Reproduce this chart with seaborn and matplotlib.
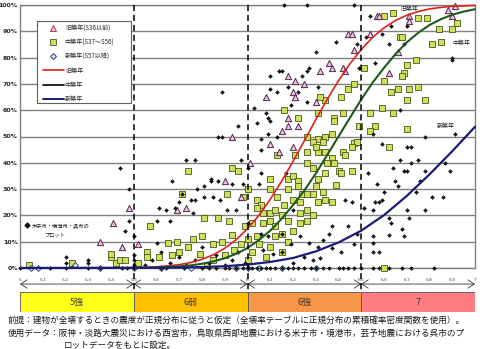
import numpy as np
import pandas as pd
import matplotlib
matplotlib.use("Agg")
import matplotlib.pyplot as plt
import seaborn as sns
from matplotlib.lines import Line2D
from matplotlib.patches import Rectangle

# ---------------- data ----------------
# 旧築年 (S36以前) plots : (intensity, damage %)
old_x = [6.91, 6.88, 6.90, 6.57, 6.58, 6.71, 6.71, 6.44, 6.46, 6.54, 6.47, 6.66, 6.36, 6.37,
         6.42, 6.43, 6.62, 6.18, 6.21, 6.25, 6.32, 6.08, 6.20, 6.21, 6.30, 6.18, 6.18, 6.22,
         5.93, 6.15, 6.10, 6.20, 6.14, 6.01, 5.90, 5.97, 5.73, 5.69, 5.48, 5.41, 5.35, 5.45, 5.52]
old_y = [99.6, 98, 96, 96, 96, 96, 94, 89, 89, 89, 83, 82, 78, 76,
         76, 75, 74, 73, 71, 70, 75, 65, 67, 65, 63, 57, 54, 54,
         50, 52, 47, 46, 44, 40, 33, 27, 23, 22, 23, 17, 10, 8, 9]

# 中築年 (S37～S56) plots
mid_x = [6.60, 6.64, 6.75, 6.79, 6.92, 6.90, 6.84, 6.67, 6.68, 6.81, 6.85, 6.51, 6.60, 6.70,
         6.69, 6.74, 6.68, 6.47, 6.44, 6.41, 6.34, 6.63, 6.66, 6.71, 6.70, 6.75, 6.78, 6.54,
         6.64, 6.59, 6.42, 6.38, 6.32, 6.16, 6.22, 6.31,
         6.49, 6.56, 6.54, 6.62, 6.70, 6.26, 6.31, 6.29, 6.13, 6.21, 6.26, 6.31, 6.30, 5.93,
         5.96, 5.74, 6.10, 6.18, 6.20, 6.22, 6.26, 6.29, 6.31, 6.00, 6.10, 6.18, 6.22, 6.24,
         6.26, 6.30, 5.71, 5.91, 5.98, 6.04, 6.06, 6.13, 6.16, 6.20, 6.23, 6.29, 6.31, 6.04,
         6.07, 6.10, 6.12, 6.15, 6.23, 6.26, 6.29,
         6.38, 6.34, 6.37, 6.33, 6.47, 6.48, 6.46, 6.42, 6.43, 6.34, 6.37, 6.38, 6.35, 6.34,
         6.40, 6.41, 6.46, 6.39, 6.37, 6.34, 6.33,
         5.81, 5.87, 5.92, 6.02, 5.99, 6.07, 6.10, 6.12, 6.18, 6.23, 6.26, 5.57, 5.69, 5.56,
         5.61, 5.65, 5.67, 5.70, 5.74, 5.76, 5.79, 5.80, 5.85, 5.89, 5.93, 5.94, 6.15, 6.04,
         6.00, 5.04, 5.23, 5.40, 5.42, 5.44, 5.46, 5.52, 5.56, 5.40, 6.00, 6.02, 6.05, 6.08,
         6.10, 6.12, 6.15, 6.18, 6.20, 5.97, 5.90, 5.85, 5.82, 6.60]
mid_y = [96, 97, 95, 95, 93, 91, 91, 88, 88, 85, 86, 76, 71, 77,
         74, 79, 73, 70, 68, 65, 64, 67, 68, 68, 64, 69, 64, 59,
         59, 61, 59, 57, 65, 60, 57, 59,
         54, 54, 52, 46, 53, 50, 49, 48, 43, 43, 44, 44, 46, 38,
         37, 37, 34, 34, 35, 33, 40, 38, 34, 30, 30, 30, 31, 28,
         28, 31, 28, 28, 27, 26, 24, 27, 24, 26, 25, 28, 25, 23,
         21, 21, 22, 20, 21, 22, 20,
         56, 50, 51, 48, 47.5, 48, 46, 44, 43, 44, 42, 40, 40, 36,
         37, 36, 37, 31.5, 25, 26, 29,
         19, 19, 18, 17, 16, 17, 18, 16, 18, 17, 18, 16, 10, 6,
         4, 9.5, 5, 6, 8, 11, 5.5, 12, 9, 10, 12.5, 7, 13, 12,
         11, 1, 2, 4, 2, 3, 3, 2, 4, 5.5, 3, 6, 9, 4,
         8, 12, 6, 10, 14, 9, 5, 3, 1, 0]

# 新築年 (S57以降) plots
new_x = [5.05, 5.08, 5.24, 5.35, 5.50, 5.62, 5.75, 5.95, 6.00, 6.05, 6.15, 6.30]
new_y = [0, 0, 1, 0, 0, 0, 0, 0, 0, 0, 0, 0]

# 米子市・境港市・呉市 plots
oth_x = [6.16, 6.26, 6.47, 6.30, 6.10, 6.14, 6.15, 6.24, 6.27, 6.26, 5.89, 6.10, 6.13, 6.18,
         6.22, 6.31, 6.26, 6.03, 6.19, 6.08, 6.09,
         6.54, 6.70, 6.63, 6.52, 6.59, 6.39, 6.62, 6.48, 6.69, 6.90, 6.90, 6.49, 6.56, 6.67,
         6.59, 6.70, 6.72, 6.78, 6.91, 6.55, 6.67, 6.72, 6.75, 6.70, 6.69, 6.64, 6.53, 6.57,
         6.65, 6.78, 6.87, 6.89, 6.76, 6.66, 6.74, 6.60, 6.56, 6.59, 6.58, 6.81, 6.86, 6.43,
         6.46, 6.51, 6.55, 6.70, 6.78, 6.71, 6.62, 6.63, 6.37, 6.44, 6.68,
         6.62, 6.69, 6.55, 6.55, 6.48, 6.47, 6.55, 6.58, 6.41, 6.37, 6.33, 6.31, 6.36, 6.23,
         6.19, 6.27, 6.15, 6.11, 6.07, 6.32, 6.29, 6.25, 6.20, 6.06, 6.09, 6.15,
         5.96, 6.04, 6.10, 5.87, 5.89, 6.09, 6.13, 6.06, 6.06, 5.73, 5.77, 5.97, 6.00, 6.06,
         6.17, 5.67, 5.84, 5.84, 5.87, 5.93, 5.98, 6.05, 5.81, 5.78, 5.71, 5.75, 5.77, 5.81,
         5.85, 5.88, 5.70, 5.68, 5.64, 5.76, 5.91, 5.95, 6.20, 5.66, 6.00,
         5.44, 5.48, 5.48, 5.60, 5.61, 5.46, 5.50, 5.60,
         5.55, 5.58, 5.62, 5.66, 5.70, 5.73, 5.77, 5.80, 5.83, 5.86, 5.90, 5.93, 5.96, 5.99,
         5.20, 5.20, 5.30, 5.30, 5.50, 5.50, 5.50,
         5.00, 5.13, 5.20, 5.30, 5.35, 5.45, 5.47, 5.50, 5.62, 5.64, 5.72, 5.80, 5.83, 5.86,
         5.90, 5.92, 5.95, 5.98, 6.00, 6.02, 6.04, 6.06, 6.08, 6.10, 6.12, 6.15, 6.18, 6.20,
         6.22, 6.25, 6.28, 6.30, 6.33, 6.36, 6.40, 6.42, 6.44, 6.47, 6.50, 6.55, 6.58, 6.62,
         6.68, 6.72, 6.82]
oth_y = [100, 100, 100, 82, 73, 75, 75, 73, 76, 75, 67, 68, 67, 69,
         67, 69, 63, 61, 62, 59, 57,
         96, 92, 92, 88, 89, 86, 85, 85, 85, 80, 79, 76, 78, 60,
         47, 46, 46, 50, 51, 51, 41, 40, 41, 37, 37, 38, 36, 32,
         33, 37, 40, 37, 33, 31, 29, 29, 25, 26, 25, 27, 27, 26,
         25, 23, 22, 22, 22, 19, 19, 17, 16, 16, 15,
         12.5, 12, 12, 9.5, 13, 9, 6, 6, 6, 7.6, 10.6, 8, 13, 12,
         9, 9.5, 6, 5.5, 7, 3.8, 3, 4, 2, 13, 12, 13,
         54, 55, 56, 50, 50, 51, 50, 49, 45, 41, 41, 41, 38, 36,
         36, 33, 34, 33, 33, 32, 32, 32, 31, 30, 28, 26, 26, 27,
         27, 26, 25, 23, 22, 21, 22, 22, 22, 18, 17,
         38, 30, 18, 18, 23, 14, 12, 9.5,
         1, 3, 6, 2, 4, 1, 3, 8, 2, 5, 1, 3, 6, 2,
         2, 4, 2, 3, 1, 3, 5,
         0, 0, 0, 0, 0, 0, 0, 0, 0, 0, 0, 0, 0, 0,
         0, 0, 0, 0, 0, 0, 0, 0, 0, 0, 0, 0, 0, 0,
         0, 0, 0, 0, 0, 0, 0, 0, 0, 0, 0, 0, 0, 0,
         0, 0, 0]

# fitted damage curves
curve_x = [5.0, 5.5, 5.6, 5.7, 5.75, 5.8, 5.85, 5.9, 5.95, 6.0, 6.05, 6.1, 6.15, 6.2, 6.25,
           6.3, 6.35, 6.4, 6.45, 6.5, 6.55, 6.6, 6.65, 6.7, 6.75, 6.8, 6.85, 6.9, 6.95, 7.0]
red_y = [0, 0.1, 0.4, 1.25, 2.1, 3.3, 5.05, 7.5, 10.75, 14.9, 20.0, 26.1, 33.0, 40.5, 48.4,
         56.4, 64.1, 71.2, 77.6, 83.1, 87.7, 91.3, 94.1, 96.1, 97.5, 98.5, 99.1, 99.5, 99.7, 99.85]
green_y = [0, 0.07, 0.2, 0.62, 1.0, 1.6, 2.5, 3.7, 5.4, 7.6, 10.6, 14.2, 18.7, 23.9, 29.5,
           35.9, 42.9, 50.0, 57.1, 64.1, 70.5, 76.1, 81.3, 85.8, 89.4, 92.4, 94.6, 96.3, 97.5, 98.4]
blue_x = [5.0, 5.5, 5.6, 5.7, 5.8, 5.9, 6.0, 6.1, 6.2, 6.3, 6.4, 6.5, 6.6, 6.7, 6.8, 6.9, 7.0]
blue_y = [0, 0.03, 0.08, 0.17, 0.35, 0.68, 1.3, 2.3, 3.8, 6.3, 9.7, 14.2, 20.1, 27.4, 35.6, 44.4, 53.7]

y_ticks = [0, 10, 20, 30, 40, 50, 60, 70, 80, 90, 100]
y_labels = ["0%", "10%", "20%", "30%", "40%", "50%", "60%", "70%", "80%", "90%", "100%"]
x_ticks = [5.0, 5.1, 5.2, 5.3, 5.4, 5.5, 5.6, 5.7, 5.8, 5.9, 6.0, 6.1, 6.2, 6.3, 6.4, 6.5,
           6.6, 6.7, 6.8, 6.9, 7.0]
x_labels = ["5", "5.1", "5.2", "5.3", "5.4", "5.5", "5.6", "5.7", "5.8", "5.9", "6", "6.1",
            "6.2", "6.3", "6.4", "6.5", "6.6", "6.7", "6.8", "6.9", "7"]
bands = ["5強", "6弱", "6強", "7"]
band_start = [5.0, 5.5, 6.0, 6.5]
band_colors = ["#FFFF1A", "#FFC000", "#F79646", "#FF7C80"]
legend_labels = ["旧築年(S36以前)", "中築年(S37～S56)", "新築年(S57以降)", "旧築年", "中築年", "新築年"]
note_lines = [
    "前提：建物が全壊するときの震度が正規分布に従うと仮定（全壊率テーブルに正規分布の累積確率密度関数を使用）。",
    "使用データ：阪神・淡路大震災における西宮市，鳥取県西部地震における米子市・境港市，芸予地震における呉市のプ",
    "ロットデータをもとに設定。",
]

# ---------------- style ----------------
sns.set_style("white")
plt.rcParams["font.family"] = ["Noto Sans CJK JP", "DejaVu Sans"]

W, H = 480, 349
def fx(px):
    return px / W
def fy(py):
    return 1 - py / H

fig = plt.figure(figsize=(4.8, 3.49), dpi=100)
ax = fig.add_axes([fx(20), fy(268), 455 / W, 263 / H])

C_TRI_F, C_TRI_E = "#E6C6DE", "#5A2450"
C_SQ_F, C_SQ_E = "#CDE05A", "#4A5518"
C_DI_F, C_DI_E = "#DCE8F6", "#1F3A7A"
C_RED, C_GRN, C_BLU = "#E0201B", "#1E5A1E", "#1C1C78"

df_oth = pd.DataFrame({"x": oth_x, "y": oth_y})
df_old = pd.DataFrame({"x": old_x, "y": old_y})
df_mid = pd.DataFrame({"x": mid_x, "y": mid_y})
df_new = pd.DataFrame({"x": new_x, "y": new_y})

sns.scatterplot(data=df_mid, x="x", y="y", ax=ax, marker="s", s=16, color=C_SQ_F,
                edgecolor=C_SQ_E, linewidth=0.6, clip_on=False, zorder=3, legend=False)
sns.scatterplot(data=df_old, x="x", y="y", ax=ax, marker="^", s=20, color=C_TRI_F,
                edgecolor=C_TRI_E, linewidth=0.7, clip_on=False, zorder=3, legend=False)
sns.scatterplot(data=df_new, x="x", y="y", ax=ax, marker="D", s=9, color=C_DI_F,
                edgecolor=C_DI_E, linewidth=0.6, clip_on=False, zorder=3, legend=False)
sns.scatterplot(data=df_oth, x="x", y="y", ax=ax, marker="D", s=4, color="#111111",
                edgecolor="#111111", linewidth=0.3, clip_on=False, zorder=3.5, legend=False)

sns.lineplot(x=curve_x, y=red_y, ax=ax, color=C_RED, lw=1.2, zorder=4, clip_on=False)
sns.lineplot(x=curve_x, y=green_y, ax=ax, color=C_GRN, lw=1.5, zorder=4, clip_on=False)
sns.lineplot(x=blue_x, y=blue_y, ax=ax, color=C_BLU, lw=1.6, zorder=4.2, clip_on=False)

ax.set_xlim(5.0, 7.0)
ax.set_ylim(0, 100)
ax.set_xticks([])
ax.set_yticks(y_ticks)
ax.set_yticklabels(y_labels, fontsize=4.5, fontweight="bold", family=["DejaVu Sans"])
ax.tick_params(axis="y", length=0, pad=1.5)
ax.set_xlabel("")
ax.set_ylabel("")
ax.grid(axis="y", color="#808080", lw=1.0)
ax.set_axisbelow(True)
for sp in ax.spines.values():
    sp.set_color("#808080")
    sp.set_linewidth(1.0)

# dashed boundaries, continuing down through the intensity band
for xv in band_start[1:]:
    ax.plot([xv, xv], [100, -16.8], color="black", lw=1.1, ls=(0, (4, 2.5)),
            clip_on=False, zorder=6)

# curve labels
ax.text(6.71, 98.2, "旧築年", fontsize=4.3, color="#222222", ha="center", va="center", zorder=7)
ax.text(6.94, 85.5, "中築年", fontsize=4.3, color="#222222", ha="center", va="center", zorder=7)
ax.text(6.87, 54.0, "新築年", fontsize=4.3, color="#222222", ha="center", va="center", zorder=7)

# plot note for black markers
ax.scatter([5.03], [16.3], marker="D", s=6, color="#111111", clip_on=False, zorder=7)
ax.text(5.05, 16.3, "米子市・境港市・呉市の", fontsize=3.8, color="#222222", va="center", ha="left")
ax.text(5.155, 12.4, "プロット", fontsize=3.8, color="#222222", va="center", ha="center")

# legend with a manual frame
lx0, lx1 = (37 - 20) / 455, (131 - 20) / 455
ly0, ly1 = (268 - 103) / 263, (268 - 21) / 263
ax.add_patch(Rectangle((lx0, ly0), lx1 - lx0, ly1 - ly0, transform=ax.transAxes,
                       facecolor="white", edgecolor="#606060", lw=0.8, zorder=4.9))
handles = [
    Line2D([], [], ls="none", marker="^", ms=4.2, mfc=C_TRI_F, mec="#C0306A", mew=0.7),
    Line2D([], [], ls="none", marker="s", ms=3.8, mfc=C_SQ_F, mec=C_SQ_E, mew=0.6),
    Line2D([], [], ls="none", marker="D", ms=3.0, mfc=C_DI_F, mec=C_DI_E, mew=0.7),
    Line2D([], [], color=C_RED, lw=1.2),
    Line2D([], [], color="#151515", lw=1.3),
    Line2D([], [], color=C_BLU, lw=1.4),
]
leg = ax.legend(handles, legend_labels, loc="upper left",
                bbox_to_anchor=(lx0 + 0.004, ly1 + 0.004), frameon=False, fontsize=4.4,
                labelspacing=1.0, handlelength=3.4, handletextpad=0.15, borderpad=0.2)
leg.set_zorder(5)

# intensity scale row with arrows
y_arr = -6.1
for xs in band_start:
    ax.annotate("", xy=(xs + 0.5, y_arr), xytext=(xs, y_arr), xycoords="data",
                arrowprops=dict(arrowstyle="<->,head_length=0.45,head_width=0.3",
                                lw=0.6, color="#333333", shrinkA=0, shrinkB=0),
                annotation_clip=False)
for xv, lab in zip(x_ticks, x_labels):
    ax.text(xv, -4.6, lab, fontsize=3.2, color="#444444", ha="center", va="center",
            family=["DejaVu Sans"], clip_on=False)

# coloured intensity band
axb = fig.add_axes([fx(20), fy(312), 455 / W, 20 / H])
axb.set_xlim(5.0, 7.0)
axb.set_ylim(0, 1)
axb.axis("off")
for xs, col, lab in zip(band_start, band_colors, bands):
    axb.add_patch(Rectangle((xs, 0), 0.5, 1, facecolor=col, edgecolor="#555555", lw=0.6))
    axb.text(xs + 0.25, 0.48, lab, fontsize=6.5, color="#3a3a3a", ha="center", va="center")

# notes
fig.text(fx(8), fy(320), note_lines[0], fontsize=6.2, color="#1a1a1a", ha="left", va="center")
fig.text(fx(8), fy(333), note_lines[1], fontsize=6.2, color="#1a1a1a", ha="left", va="center")
fig.text(fx(64), fy(345), note_lines[2], fontsize=6.2, color="#1a1a1a", ha="left", va="center")

fig.savefig("out.png", dpi=100)
